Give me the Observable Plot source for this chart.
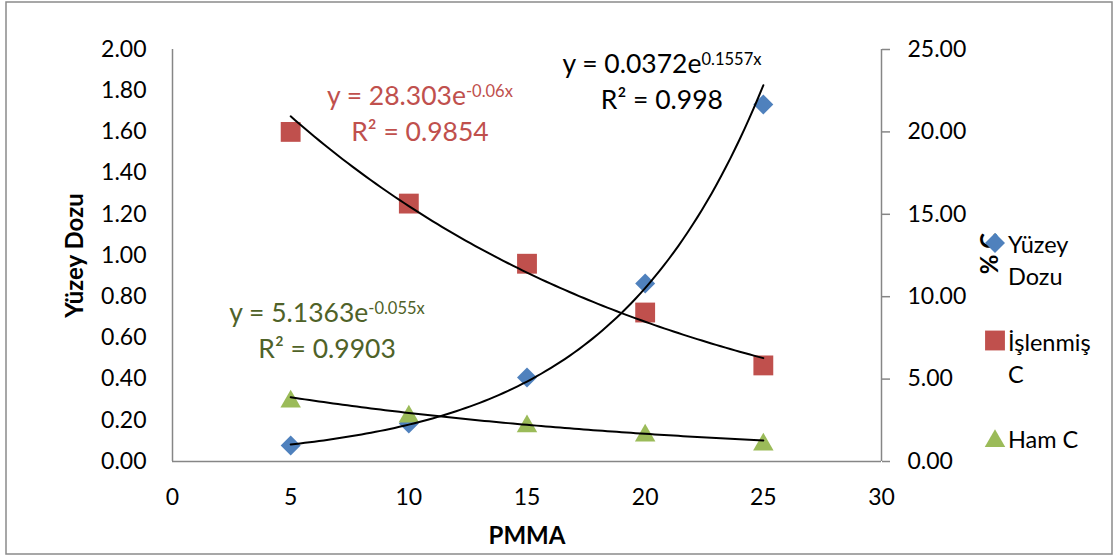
<!DOCTYPE html>
<html>
<head>
<meta charset="utf-8">
<script src="https://cdn.jsdelivr.net/npm/d3@7"></script>
<script src="https://cdn.jsdelivr.net/npm/@observablehq/plot@0.6"></script>
<style>
  body { margin: 0; background: #fff; }
  #chart { width: 1117px; height: 556px; }
</style>
</head>
<body>
<div id="chart"></div>
<script>
// ---- data ----
const pmma = [5, 10, 15, 20, 25];
const yuzeyDozu = [0.078, 0.185, 0.408, 0.864, 1.733];   // left axis
const islenmisC = [20.0, 15.65, 12.0, 9.04, 5.83];       // right axis (% C)
const hamC = [3.82, 2.91, 2.31, 1.76, 1.21];             // right axis (% C)

const xTicks = [0, 5, 10, 15, 20, 25, 30];
const leftTicks = [0, 0.2, 0.4, 0.6, 0.8, 1.0, 1.2, 1.4, 1.6, 1.8, 2.0];
const rightTicks = [0, 5, 10, 15, 20, 25];

const seriesNames = ["Yüzey Dozu", "İşlenmiş C", "Ham C"];
const legendLines = [["Yüzey", "Dozu"], ["İşlenmiş", "C"], ["Ham C"]];
const seriesColors = ["#4F81BD", "#C0504D", "#9BBB59"];
const eqColors = ["#000000", "#C0504D", "#4F6228"];
const eqBase = ["y = 0.0372e", "y = 28.303e", "y = 5.1363e"];
const eqExp = ["0.1557x", "-0.06x", "-0.055x"];
const eqR2 = ["R² = 0.998", "R² = 0.9854", "R² = 0.9903"];
// equation label anchors (data coordinates: PMMA, left-axis value)
const eqAnchorX = [20.73, 10.49, 6.56];
const eqAnchorY = [1.883, 1.728, 0.675];

const k = 12.5; // right axis (0..25) mapped onto left axis (0..2)

// exponential least-squares fit on ln(y), as a trendline does
function expFit(xs, ys) {
  const ly = ys.map(Math.log);
  const mx = d3.mean(xs), my = d3.mean(ly);
  const b = d3.sum(xs, (x, i) => (x - mx) * (ly[i] - my)) / d3.sum(xs, x => (x - mx) ** 2);
  const a = Math.exp(my - b * mx);
  return {a, b};
}
function trend(xs, ys, scale) {
  const {a, b} = expFit(xs, ys);
  const x0 = d3.min(xs), x1 = d3.max(xs);
  return d3.range(0, 101).map(i => {
    const x = x0 + (x1 - x0) * i / 100;
    return {x, y: a * Math.exp(b * x) / scale};
  });
}

const rows = pmma.map((x, i) => ({x, dozu: yuzeyDozu[i], isl: islenmisC[i] / k, ham: hamC[i] / k}));
const trendDozu = trend(pmma, yuzeyDozu, 1);
const trendIsl = trend(pmma, islenmisC, k);
const trendHam = trend(pmma, hamC, k);

const axisGray = "#868686";

const chart = Plot.plot({
  width: 1117,
  height: 556,
  marginLeft: 172,
  marginRight: 236,
  marginTop: 49,
  marginBottom: 95,
  x: {domain: [0, 30]},
  y: {domain: [0, 2]},
  style: {fontFamily: "Lato, 'Open Sans', sans-serif", fontSize: "23px", color: "#000", background: "#fff", overflow: "visible"},
  marks: [
    Plot.axisY(leftTicks, {anchor: "left", tickSize: 0, tickPadding: 26, tickFormat: d => d.toFixed(2), label: null}),
    Plot.axisY(rightTicks.map(v => v / k), {anchor: "right", tickSize: 8, tickPadding: 18, stroke: axisGray, strokeWidth: 1.5, tickFormat: d => (d * k).toFixed(2), label: null}),
    Plot.axisX(xTicks, {tickSize: 0, tickPadding: 27, tickFormat: d => String(d), label: null}),
    Plot.ruleX([0, 30], {stroke: axisGray, strokeWidth: 1.5}),
    Plot.ruleY([0], {stroke: axisGray, strokeWidth: 1.5}),
    Plot.dot(rows, {x: "x", y: "dozu", symbol: "diamond2", r: 9, fill: seriesColors[0], stroke: "none"}),
    Plot.dot(rows, {x: "x", y: "isl", symbol: "square", r: 11.2, fill: seriesColors[1], stroke: "none"}),
    Plot.dot(rows, {x: "x", y: "ham", symbol: "triangle", r: 7.6, dy: 3, fill: seriesColors[2], stroke: "none"}),
    Plot.line(trendDozu, {x: "x", y: "y", stroke: "#000", strokeWidth: 2}),
    Plot.line(trendIsl, {x: "x", y: "y", stroke: "#000", strokeWidth: 2}),
    Plot.line(trendHam, {x: "x", y: "y", stroke: "#000", strokeWidth: 2}),
    Plot.text(["Yüzey Dozu"], {text: d => d, frameAnchor: "left", textAnchor: "middle", lineAnchor: "middle", dx: -97, rotate: -90, fontWeight: "bold", fontSize: 24}),
    Plot.text(["% C"], {text: d => d, frameAnchor: "right", textAnchor: "middle", lineAnchor: "middle", dx: 109, dy: -2, rotate: -90, fontWeight: "bold", fontSize: 24}),
    Plot.text(["PMMA"], {text: d => d, frameAnchor: "bottom", textAnchor: "middle", lineAnchor: "middle", dy: 75, fontWeight: "bold", fontSize: 24})
  ]
});

const svg = d3.select(chart);
const sx = chart.scale("x"), sy = chart.scale("y");

// equation labels with superscript exponent
eqBase.forEach((base, i) => {
  const px = sx.apply(eqAnchorX[i]), py = sy.apply(eqAnchorY[i]);
  const t = svg.append("text")
    .attr("x", px).attr("y", py)
    .attr("text-anchor", "middle")
    .attr("fill", eqColors[i])
    .attr("font-size", 26.5);
  t.append("tspan").text(base);
  t.append("tspan").attr("font-size", 16.5).attr("dy", -8).text(eqExp[i]);
  svg.append("text")
    .attr("x", px).attr("y", py + 36)
    .attr("text-anchor", "middle")
    .attr("fill", eqColors[i])
    .attr("font-size", 26.5)
    .text(eqR2[i]);
});

// legend
const legendSymbols = [d3.symbolDiamond2, d3.symbolSquare, d3.symbolTriangle];
const legendSizes = [Math.PI * 81, Math.PI * 11.2 * 11.2, Math.PI * 7.6 * 7.6];
const lg = svg.append("g").attr("font-size", 23.5).attr("text-anchor", "start");
seriesNames.forEach((name, i) => {
  const cy = 243 + i * 97.5;
  lg.append("path")
    .attr("transform", `translate(995,${cy + (i === 2 ? 3 : 0)})`)
    .attr("d", d3.symbol(legendSymbols[i], legendSizes[i])())
    .attr("fill", seriesColors[i]);
  const t = lg.append("text").attr("x", 1008).attr("y", cy + 10)
    .attr("fill", "#000").attr("text-anchor", "start");
  legendLines[i].forEach((line, j) => {
    t.append("tspan").attr("x", 1008).attr("dy", j === 0 ? 0 : 32).text(line);
  });
});

// outer chart border
svg.append("rect")
  .attr("x", 6).attr("y", 2).attr("width", 1106).attr("height", 552)
  .attr("fill", "none").attr("stroke", "#8a8a8a").attr("stroke-width", 1.5);

document.getElementById("chart").appendChild(chart);
</script>
</body>
</html>
